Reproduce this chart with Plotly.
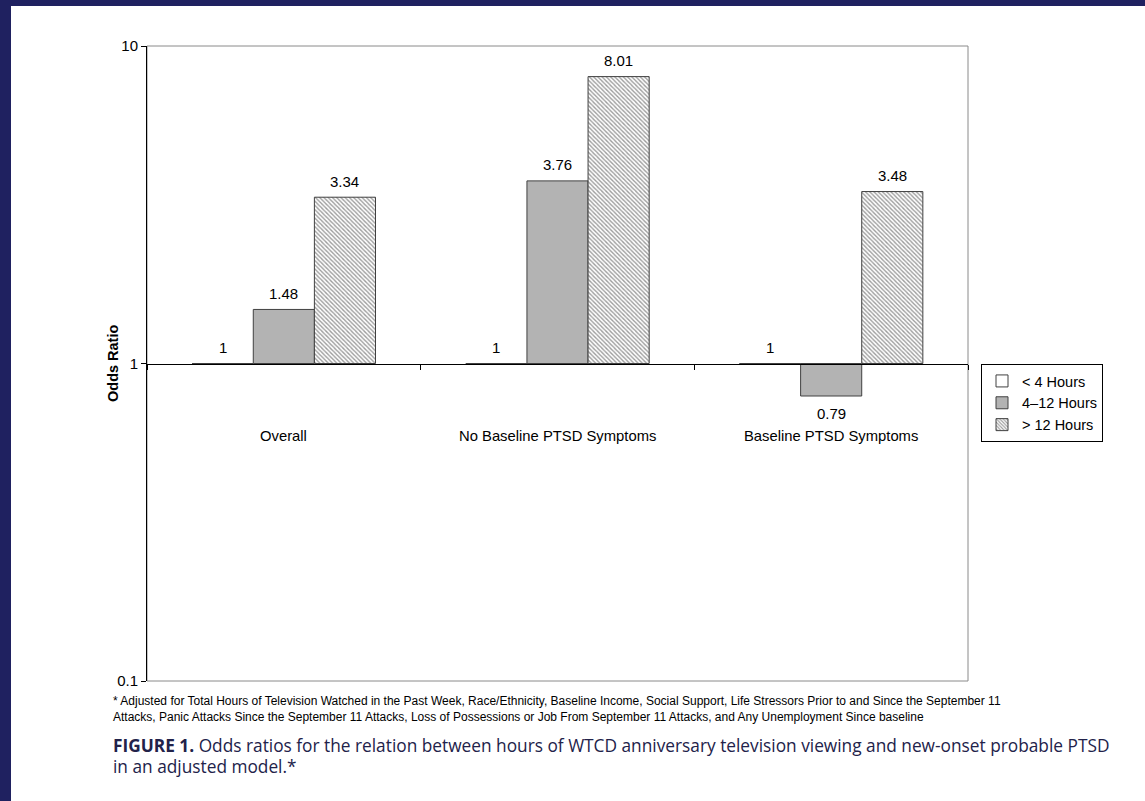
import plotly.graph_objects as go
import math

categories = ["Overall", "No Baseline PTSD Symptoms", "Baseline PTSD Symptoms"]
series_names = ["< 4 Hours", "4–12 Hours", "> 12 Hours"]
lt4 = [1, 1, 1]
h4_12 = [1.48, 3.76, 0.79]
gt12 = [3.34, 8.01, 3.48]
y_ticks = [0.1, 1, 10]
y_tick_labels = ["0.1", "1", "10"]
footnote = [
    "* Adjusted for Total Hours of Television Watched in the Past Week, Race/Ethnicity, Baseline Income, Social Support, Life Stressors Prior to and Since the September 11",
    "Attacks, Panic Attacks Since the September 11 Attacks, Loss of Possessions or Job From September 11 Attacks, and Any Unemployment Since baseline",
]
caption = [
    "<b>FIGURE 1.</b> Odds ratios for the relation between hours of WTCD anniversary television viewing and new-onset probable PTSD",
    "in an adjusted model.*",
]

W, H = 1145, 801
L, R, T, B = 147, 968, 46, 681
pw, ph = R - L, B - T


def px(x):
    return (x - L) / pw


def py(y):
    return (B - y) / ph


BASE = 1
all_series = [lt4, h4_12, gt12]
styles = [
    dict(color="white", line=dict(color="#404040", width=1)),
    dict(color="#b3b3b3", line=dict(color="#404040", width=1)),
    dict(color="white", line=dict(color="#404040", width=1),
         pattern=dict(shape="\\", fgcolor="#3a3a3a", bgcolor="white", size=3, solidity=0.45)),
]

fig = go.Figure()
for name, vals, st in zip(series_names, all_series, styles):
    fig.add_trace(go.Bar(
        x=categories, y=[v - BASE for v in vals], base=[BASE] * len(vals),
        name=name, marker=st, hoverinfo="skip",
    ))

bargap = 0.33
bw = (1 - bargap) / 3
annotations = []
for si, vals in enumerate(all_series):
    off = (si - 1) * bw
    for ci, v in enumerate(vals):
        annotations.append(dict(
            x=ci + off, y=math.log10(v), xref="x", yref="y",
            text=f"{v:g}", showarrow=False,
            yshift=16 if v >= BASE else -17,
            font=dict(family="Liberation Sans, Arial", size=15, color="black"),
        ))

for ci, c in enumerate(categories):
    annotations.append(dict(
        x=ci, y=py(436), xref="x", yref="paper", text=c, showarrow=False,
        font=dict(family="Liberation Sans, Arial", size=14.8, color="black"),
    ))

annotations.append(dict(
    x=px(103), y=py(364), xref="paper", yref="paper", text="<b>Odds Ratio</b>",
    textangle=-90, showarrow=False,
    font=dict(family="Liberation Sans, Arial", size=14.5, color="black"),
))

for i, line in enumerate(footnote):
    annotations.append(dict(
        x=px(111), y=py(701 + 16 * i), xref="paper", yref="paper", text=line,
        xanchor="left", yanchor="middle", showarrow=False,
        font=dict(family="Liberation Sans, Arial", size=12, color="black"),
    ))

for i, line in enumerate(caption):
    annotations.append(dict(
        x=px(111), y=py(745 + 21 * i), xref="paper", yref="paper", text=line,
        xanchor="left", yanchor="middle", showarrow=False,
        font=dict(family="Open Sans", size=17.3, color="#22224a"),
    ))

navy = "#1f2160"
shapes = [
    dict(type="rect", xref="paper", yref="paper", x0=0, x1=1, y0=0, y1=1,
         line=dict(color="#8a8a8a", width=1), layer="below"),
    dict(type="rect", xref="paper", yref="paper", x0=px(0), x1=px(11), y0=py(H), y1=py(0),
         fillcolor=navy, line=dict(width=0)),
    dict(type="rect", xref="paper", yref="paper", x0=px(0), x1=px(W), y0=py(6), y1=py(0),
         fillcolor=navy, line=dict(width=0)),
]

fig.update_layout(
    width=W, height=H,
    margin=dict(l=L, r=W - R, t=T, b=H - B),
    paper_bgcolor="white", plot_bgcolor="white",
    barmode="group", bargap=bargap, bargroupgap=0,
    font=dict(family="Liberation Sans, Arial", size=14, color="black"),
    showlegend=True,
    legend=dict(
        x=px(981), y=py(364), xanchor="left", yanchor="top",
        bgcolor="white", bordercolor="black", borderwidth=1,
        font=dict(family="Liberation Sans, Arial", size=14.5, color="black"),
        itemwidth=30, tracegroupgap=0,
    ),
    xaxis=dict(
        type="category", anchor="free", position=0.5,
        showline=True, linecolor="black", linewidth=1,
        ticks="outside", tickson="boundaries", ticklen=5, tickcolor="black",
        showticklabels=False, showgrid=False, zeroline=False,
        range=[-0.5, 2.5],
    ),
    yaxis=dict(
        type="log", range=[-1, 1], tickvals=y_ticks, ticktext=y_tick_labels,
        showline=True, linecolor="black", linewidth=1,
        ticks="outside", ticklen=5, tickcolor="black",
        showgrid=False, zeroline=False,
        tickfont=dict(family="Liberation Sans, Arial", size=15, color="black"),
    ),
    annotations=annotations,
    shapes=shapes,
)

fig.write_html(
    "out.html",
    config={"displayModeBar": False},
    post_script="document.body.style.margin='0';document.body.style.overflow='hidden';",
)
